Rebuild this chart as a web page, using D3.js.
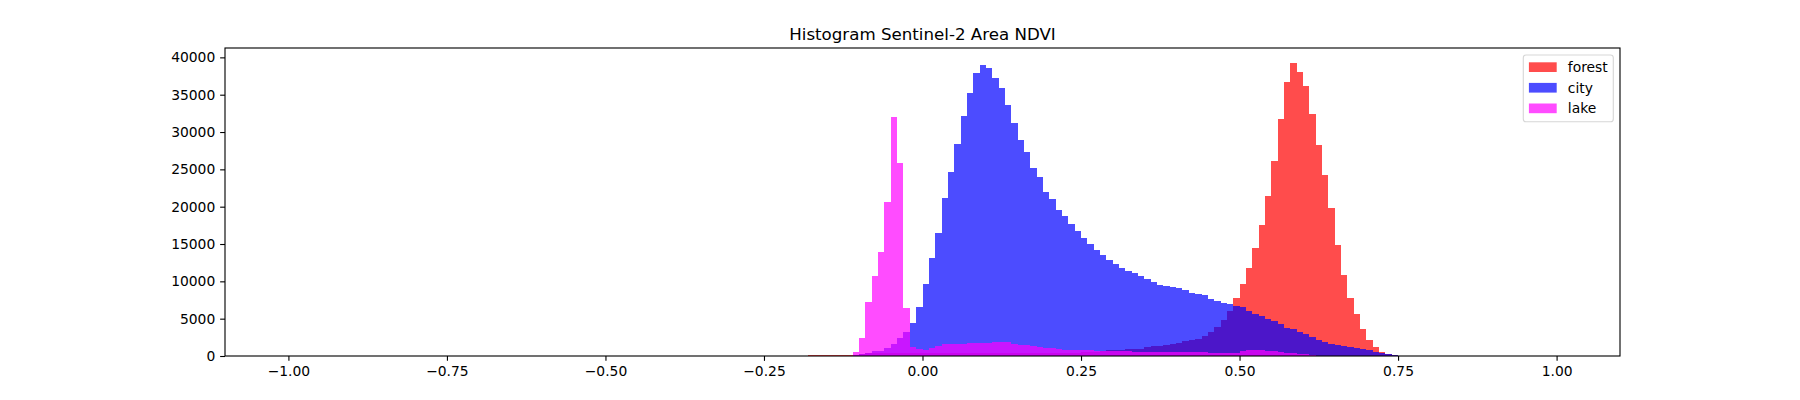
<!DOCTYPE html>
<html>
<head>
<meta charset="utf-8">
<script src="https://cdn.jsdelivr.net/npm/d3@7"></script>
<style>
  body { margin: 0; background: #fff; }
  text { font-family: "DejaVu Sans", sans-serif; }
</style>
</head>
<body>
<svg id="chart"></svg>
<script>
//------ Données ------
// histogrammes de 0.01 de large, le premier bac commence a -0.18
const firstBin = -0.18
const binWidth = 0.01

const forest = [
    100, 100, 100, 100, 100, 100, 100, 150, 250, 350,
    450, 450, 450, 450, 450, 450, 450, 450, 450, 450,
    450, 450, 450, 450, 450, 450, 400, 400, 400, 400,
    400, 400, 400, 400, 400, 400, 400, 400, 400, 400,
    400, 400, 450, 500, 550, 600, 710, 844, 844, 870,
    978, 978, 1000, 1246, 1380, 1380, 1513, 1647, 1780, 1950,
    2180, 2320, 2720, 3255, 3920, 4860, 6070, 7810, 9690, 11830,
    14510, 17590, 21470, 26160, 31790, 36740, 39290, 38080, 36210, 32460,
    28300, 24290, 19870, 14910, 10890, 7810, 5670, 3660, 2180, 1250,
    580, 310, 170
]

const city = [
    0, 0, 0, 0, 0, 0, 50, 150, 290, 420,
    640, 710, 1110, 1650, 2450, 3260, 4460, 6610, 9690, 13170,
    16520, 21200, 24690, 28440, 32190, 35270, 37950, 39020, 38620, 37280,
    35940, 33660, 31250, 28970, 27360, 25220, 24020, 22010, 21070, 19600,
    18790, 17720, 16780, 15850, 15040, 14240, 13570, 12900, 12360, 11830,
    11430, 11160, 10760, 10350, 9950, 9550, 9420, 9280, 9150, 8880,
    8480, 8350, 8210, 7680, 7410, 7140, 7010, 6740, 6610, 6070,
    5670, 5400, 5000, 4730, 4330, 3790, 3660, 3260, 2990, 2590,
    2180, 1920, 1650, 1510, 1380, 1250, 1110, 980, 840, 580,
    440, 310, 170
]

const lake = [
    0, 0, 0, 0, 0, 0, 0, 576, 2450, 7270,
    10760, 13970, 20670, 32050, 25890, 6470, 1150, 890, 870, 1110,
    1380, 1650, 1650, 1650, 1650, 1780, 1780, 1780, 1780, 1850,
    1900, 1900, 1650, 1510, 1510, 1380, 1250, 1110, 1110, 980,
    840, 840, 840, 840, 820, 710, 710, 700, 690, 650,
    620, 600, 590, 576, 570, 570, 570, 570, 565, 565,
    560, 560, 560, 450, 442, 442, 442, 442, 650, 750,
    780, 780, 700, 650, 600, 450, 380, 300, 250, 100,
    50, 0, 0, 0, 0, 0, 0, 0, 0, 0,
    0, 0, 0
]

const seriesNames = ["forest", "city", "lake"]
const seriesColors = ["red", "blue", "magenta"]
const xTicks = [-1, -0.75, -0.5, -0.25, 0, 0.25, 0.5, 0.75, 1]
const yTicks = [0, 5000, 10000, 15000, 20000, 25000, 30000, 35000, 40000]
const title = "Histogram Sentinel-2 Area NDVI"

//------ Cadre ------
const width = 1800, height = 400
const plotLeft = 225, plotRight = 1620, plotTop = 48, plotBottom = 356
const pt = 100 / 72   // figure a 100 dpi

const svg = d3.select("#chart")
    .attr("width", width)
    .attr("height", height)

svg.append("rect").attr("width", width).attr("height", height).attr("fill", "#fff")

const allSeries = [forest, city, lake]
const x = d3.scaleLinear().domain([-1.1, 1.1]).range([plotLeft, plotRight])
const y = d3.scaleLinear()
    .domain([0, d3.max(allSeries.flat()) * 1.05])
    .range([plotBottom, plotTop])

//------ Barres ------
allSeries.forEach((values, s) => {
    svg.append("g")
        .attr("fill", seriesColors[s])
        .attr("fill-opacity", 0.7)
        .attr("shape-rendering", "crispEdges")
        .selectAll("rect")
        .data(values.map((n, i) => ({ x0: firstBin + i * binWidth, n: n })))
        .enter()
        .append("rect")
        .attr("x", d => Math.round(x(d.x0)))
        .attr("width", d => Math.round(x(d.x0 + binWidth)) - Math.round(x(d.x0)))
        .attr("y", d => y(d.n))
        .attr("height", d => plotBottom - y(d.n))
})

//------ Axes ------
const xAxis = svg.append("g")
    .attr("transform", `translate(0,${plotBottom})`)
    .call(d3.axisBottom(x).tickValues(xTicks).tickFormat(d3.format(".2f"))
        .tickSize(3.5 * pt).tickPadding(3.5 * pt).tickSizeOuter(0))

const yAxis = svg.append("g")
    .attr("transform", `translate(${plotLeft},0)`)
    .call(d3.axisLeft(y).tickValues(yTicks).tickFormat(d3.format("d"))
        .tickSize(3.5 * pt).tickPadding(3.5 * pt).tickSizeOuter(0))

;[xAxis, yAxis].forEach(g => {
    g.attr("font-family", null).attr("font-size", null)
    g.select(".domain").remove()
    g.selectAll("line").attr("stroke", "#000").attr("stroke-width", 0.8 * pt)
    g.selectAll("text").attr("fill", "#000").style("font-size", (10 * pt) + "px")
})

// cadre
svg.append("rect")
    .attr("x", plotLeft).attr("y", plotTop)
    .attr("width", plotRight - plotLeft).attr("height", plotBottom - plotTop)
    .attr("fill", "none")
    .attr("stroke", "#000")
    .attr("stroke-width", 0.8 * pt)

// titre
svg.append("text")
    .attr("x", (plotLeft + plotRight) / 2)
    .attr("y", plotTop - 6 * pt)
    .attr("text-anchor", "middle")
    .style("font-size", (12 * pt) + "px")
    .text(title)

//------ Legende ------
const legend = svg.append("g")
legend.append("rect")
    .attr("x", 1523.3).attr("y", 55)
    .attr("width", 90).attr("height", 66.7)
    .attr("rx", 2.8)
    .attr("fill", "#fff")
    .attr("fill-opacity", 0.8)
    .attr("stroke", "#ccc")
    .attr("stroke-opacity", 0.8)
    .attr("stroke-width", 0.8 * pt)

seriesNames.forEach((name, i) => {
    const cy = 67.2 + i * 20.6
    legend.append("rect")
        .attr("x", 1528.9).attr("y", cy - 4.9)
        .attr("width", 27.8).attr("height", 9.7)
        .attr("fill", seriesColors[i])
        .attr("fill-opacity", 0.7)
    legend.append("text")
        .attr("x", 1567.8).attr("y", cy)
        .attr("dy", "0.36em")
        .style("font-size", (10 * pt) + "px")
        .text(name)
})
</script>
</body>
</html>
